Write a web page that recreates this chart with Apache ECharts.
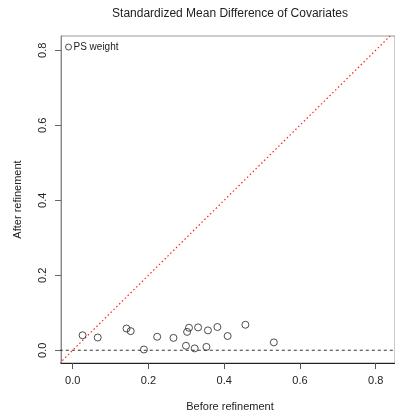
<!DOCTYPE html>
<html>
<head>
<meta charset="utf-8">
<script src="https://cdn.jsdelivr.net/npm/echarts@6/dist/echarts.min.js"></script>
<style>
  html, body { margin: 0; padding: 0; background: #fff; }
  #chart { width: 395px; height: 417px; }
</style>
</head>
<body>
<div id="chart"></div>
<script>
// SMD before vs after refinement, one point per covariate
const beforeSmd = [0.026, 0.066, 0.142, 0.153, 0.188, 0.223, 0.266, 0.299, 0.302, 0.307,
                   0.322, 0.331, 0.353, 0.357, 0.382, 0.409, 0.456, 0.531];
const afterSmd  = [0.040, 0.034, 0.058, 0.051, 0.002, 0.036, 0.033, 0.012, 0.049, 0.060,
                   0.005, 0.061, 0.009, 0.053, 0.062, 0.038, 0.068, 0.021];
const tickValues = [0, 0.2, 0.4, 0.6, 0.8];
const refLine = [-0.05, 0.9];

const font = 'Liberation Sans, Arial, sans-serif';
const points = beforeSmd.map((b, i) => [b, afterSmd[i]]);

const chart = echarts.init(document.getElementById('chart'));

chart.setOption({
  animation: false,
  title: {
    text: 'Standardized Mean Difference of Covariates',
    left: 225,
    top: 3,
    textAlign: 'center',
    textStyle: { fontFamily: font, fontSize: 12, fontWeight: 'normal', color: '#222' }
  },
  legend: {
    data: ['PS weight'],
    left: 60,
    top: 37,
    itemWidth: 6,
    itemHeight: 6,
    icon: 'circle',
    itemStyle: { color: 'transparent', borderColor: '#222', borderWidth: 1 },
    textStyle: { fontFamily: font, fontSize: 10, color: '#222', padding: [0, 0, 0, -3] }
  },
  grid: {
    left: 61, top: 36, right: -10, bottom: 49.5,
    show: true, borderColor: '#999', borderWidth: 1, backgroundColor: 'transparent'
  },
  xAxis: {
    type: 'value',
    min: -0.031,
    max: 0.851,
    name: 'Before refinement',
    nameLocation: 'middle',
    nameGap: 38,
    nameTextStyle: { fontFamily: font, fontSize: 11, color: '#222', padding: [0, 0, 0, 4] },
    axisLine: { onZero: false, lineStyle: { color: '#222', width: 1 } },
    axisTick: { show: true, length: 6, customValues: tickValues, lineStyle: { color: '#555' } },
    axisLabel: {
      customValues: tickValues, margin: 12,
      fontFamily: font, fontSize: 11, color: '#222',
      formatter: v => v.toFixed(1)
    },
    splitLine: { show: false }
  },
  yAxis: {
    type: 'value',
    min: -0.034,
    max: 0.838,
    name: 'After refinement',
    nameLocation: 'middle',
    nameGap: 38,
    nameTextStyle: { fontFamily: font, fontSize: 11, color: '#222' },
    axisLine: { show: true, onZero: false, lineStyle: { color: '#888', width: 1 } },
    axisTick: { show: true, length: 6, customValues: tickValues, lineStyle: { color: '#666' } },
    axisLabel: {
      customValues: tickValues, rotate: 90, margin: 13,
      fontFamily: font, fontSize: 11, color: '#222',
      formatter: v => v.toFixed(1)
    },
    splitLine: { show: false }
  },
  series: [
    {
      name: 'PS weight',
      type: 'scatter',
      data: points,
      symbol: 'circle',
      symbolSize: 7,
      itemStyle: { color: 'transparent', borderColor: '#222', borderWidth: 1 },
      z: 5
    },
    {
      name: 'y = x',
      type: 'line',
      data: [[refLine[0], refLine[0]], [refLine[1], refLine[1]]],
      symbol: 'none',
      itemStyle: { color: '#ff2020' },
      lineStyle: { color: '#ff2020', width: 1.2, type: [1.5, 2.5] },
      z: 3
    },
    {
      name: 'zero',
      type: 'line',
      data: [[refLine[0], 0], [refLine[1], 0]],
      symbol: 'none',
      lineStyle: { color: '#333', width: 1, type: [3, 3] },
      z: 3
    }
  ]
});
</script>
</body>
</html>
